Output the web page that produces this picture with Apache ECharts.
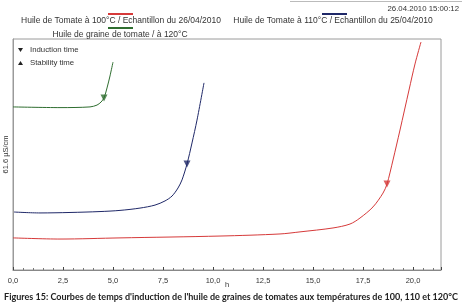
<!DOCTYPE html>
<html>
<head>
<meta charset="utf-8">
<script src="https://cdn.jsdelivr.net/npm/echarts@6/dist/echarts.min.js"></script>
<style>
html,body{margin:0;padding:0;background:#fff;}
#c{width:462px;height:303px;}
</style>
</head>
<body>
<div id="c"></div>
<script>
// Hours (x) and conductivity in relative units (y, 0..100 of the plot height)
const redX = [0, 2.35, 5.35, 10.35, 13.35, 14.35, 16.0, 16.85, 17.35, 18.0, 18.5, 18.7, 19.0, 19.35, 19.8, 20.1, 20.4];
const redY = [13.9, 13.4, 13.9, 14.7, 15.6, 16.5, 18.2, 19.9, 22.5, 27.3, 33.3, 37.2, 47.6, 60.6, 77.9, 89.2, 98.7];
const blueX = [0.05, 1.35, 2.85, 4.35, 5.35, 6.35, 7.1, 7.6, 7.95, 8.25, 8.45, 8.7, 8.95, 9.2, 9.55];
const blueY = [25.1, 24.7, 24.9, 25.3, 25.8, 26.8, 28.1, 29.9, 32.0, 35.5, 39.0, 45.9, 55.0, 64.9, 81.0];
const greenX = [0, 2.35, 3.85, 4.2, 4.4, 4.55, 4.7, 4.85, 5.0];
const greenY = [70.6, 70.3, 70.6, 71.4, 72.7, 74.5, 78.8, 84.0, 90.0];
// Induction time markers [h, value]
const inductionRed = [18.7, 37.2];
const inductionBlue = [8.7, 45.9];
const inductionGreen = [4.55, 74.5];

const legendNames = [
  "Huile de Tomate à 100°C / Echantillon du 26/04/2010",
  "Huile de Tomate à 110°C / Echantillon du 25/04/2010",
  "Huile de graine de tomate / à 120°C"
];
const dateText = "26.04.2010 15:00:12";
const yAxisName = "61.6 µS/cm";
const xAxisName = "h";
const inductionLabel = "Induction time";
const stabilityLabel = "Stability time";
const caption = "Figures 15: Courbes de temps d'induction de l'huile de graines de tomates aux températures de 100, 110 et 120°C";

const RED = '#d63a3a', BLUE = '#1f2868', GREEN = '#2f6e30';

function zip(xs, ys){ return xs.map((x,i)=>[x, ys[i]]); }

const chart = echarts.init(document.getElementById('c'), null, {renderer:'canvas'});
const smallFont = 'Liberation Sans, Arial, sans-serif';

chart.setOption({
  animation: false,
  backgroundColor: '#fff',
  grid: {left: 13, top: 39, right: 21, bottom: 33, show: true, borderColor: '#9a9a9a', borderWidth: 1,
    outerBoundsMode: 'none', containLabel: false},
  xAxis: {
    type: 'value', min: 0, max: 21.4, interval: 2.5,
    name: xAxisName, nameLocation: 'middle', nameGap: 11, nameMoveOverlap: false,
    nameTextStyle: {fontSize: 7.5, color: '#333', fontFamily: smallFont},
    axisLine: {lineStyle: {color: '#888', width: 1}},
    axisTick: {inside: true, length: 3, lineStyle: {color: '#444'}},
    minorTick: {show: true, splitNumber: 5, length: 2, lineStyle: {color: '#777'}},
    splitLine: {show: false},
    axisLabel: {fontSize: 7.5, color: '#333', fontFamily: smallFont, margin: 7, showMaxLabel: false,
      formatter: v => v.toFixed(1).replace('.', ',')}
  },
  yAxis: {
    type: 'value', min: 0, max: 100,
    name: yAxisName, nameLocation: 'middle', nameRotate: 90, nameGap: 3, nameMoveOverlap: false,
    nameTextStyle: {fontSize: 7.5, color: '#333', fontFamily: smallFont},
    axisLine: {show: true, lineStyle: {color: '#9a9a9a'}},
    axisTick: {show: false}, axisLabel: {show: false}, splitLine: {show: false}
  },
  series: [
    {type: 'line', data: zip(redX, redY), showSymbol: false, lineStyle: {color: RED, width: 1}, smooth: 0.3},
    {type: 'line', data: zip(blueX, blueY), showSymbol: false, lineStyle: {color: BLUE, width: 1}, smooth: 0.3},
    {type: 'line', data: zip(greenX, greenY), showSymbol: false, lineStyle: {color: GREEN, width: 1}, smooth: 0.3},
    {type: 'scatter', data: [inductionRed], symbol: 'triangle', symbolRotate: 180, symbolSize: 7, itemStyle: {color: RED}},
    {type: 'scatter', data: [inductionBlue], symbol: 'triangle', symbolRotate: 180, symbolSize: 7, itemStyle: {color: BLUE}},
    {type: 'scatter', data: [inductionGreen], symbol: 'triangle', symbolRotate: 180, symbolSize: 7, itemStyle: {color: GREEN}}
  ],
  graphic: [
    {type: 'line', shape: {x1: 290, y1: 1.5, x2: 462, y2: 1.5}, style: {stroke: '#bbb', lineWidth: 1}},
    {type: 'text', x: 459, y: 9, style: {text: dateText, fontSize: 7.8, fill: '#333', fontFamily: smallFont, textAlign: 'right', textVerticalAlign: 'middle'}},
    {type: 'line', shape: {x1: 108, y1: 14, x2: 133, y2: 14}, style: {stroke: RED, lineWidth: 2}},
    {type: 'text', x: 121, y: 21, style: {text: legendNames[0], fontSize: 8.5, fill: '#333', fontFamily: smallFont, textAlign: 'center', textVerticalAlign: 'middle'}},
    {type: 'line', shape: {x1: 322, y1: 14, x2: 347, y2: 14}, style: {stroke: BLUE, lineWidth: 2}},
    {type: 'text', x: 333, y: 21, style: {text: legendNames[1], fontSize: 8.5, fill: '#333', fontFamily: smallFont, textAlign: 'center', textVerticalAlign: 'middle'}},
    {type: 'line', shape: {x1: 108, y1: 28, x2: 133, y2: 28}, style: {stroke: GREEN, lineWidth: 2}},
    {type: 'text', x: 120, y: 35, style: {text: legendNames[2], fontSize: 8.5, fill: '#333', fontFamily: smallFont, textAlign: 'center', textVerticalAlign: 'middle'}},
    {type: 'polygon', shape: {points: [[18, 48], [23, 48], [20.5, 52]]}, style: {fill: '#222'}},
    {type: 'text', x: 30, y: 50, style: {text: inductionLabel, fontSize: 7.8, fill: '#333', fontFamily: smallFont, textVerticalAlign: 'middle'}},
    {type: 'polygon', shape: {points: [[18, 65], [23, 65], [20.5, 61]]}, style: {fill: '#222'}},
    {type: 'text', x: 30, y: 63, style: {text: stabilityLabel, fontSize: 7.8, fill: '#333', fontFamily: smallFont, textVerticalAlign: 'middle'}},
    {type: 'text', x: 231, y: 297, style: {text: caption, fontSize: 9, fontWeight: 'bold', fill: '#222', fontFamily: 'Lato, sans-serif', textAlign: 'center', textVerticalAlign: 'middle'}}
  ]
});
</script>
</body>
</html>
